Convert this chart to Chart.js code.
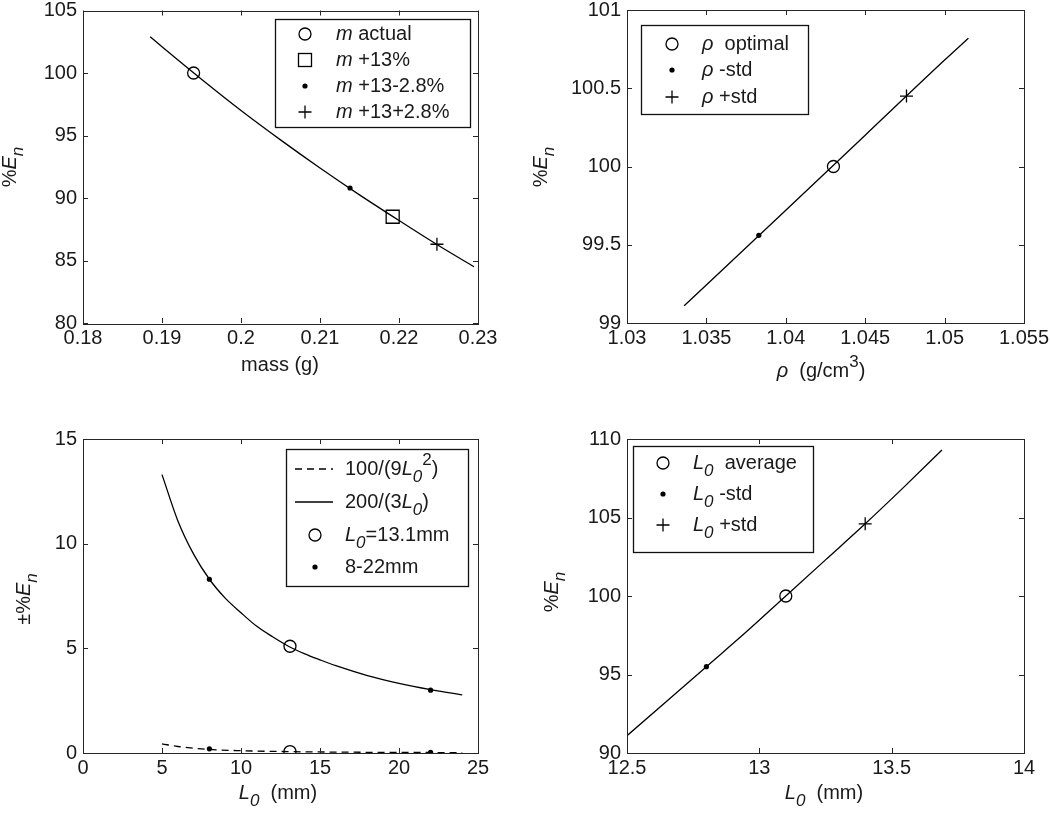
<!DOCTYPE html>
<html>
<head>
<meta charset="utf-8">
<script src="https://cdn.jsdelivr.net/npm/chart.js@4.4.1/dist/chart.umd.min.js"></script>
<style>
  html, body { margin: 0; padding: 0; background: #fff; }
  #fig { position: relative; width: 1050px; height: 814px; }
  #fig canvas { position: absolute; }
</style>
</head>
<body>
<div id="fig">
  <canvas id="cMass" width="525" height="407" style="left:0;top:0"></canvas>
  <canvas id="cRho" width="525" height="407" style="left:525px;top:0"></canvas>
  <canvas id="cErr" width="525" height="407" style="left:0;top:407px"></canvas>
  <canvas id="cLen" width="525" height="407" style="left:525px;top:407px"></canvas>
</div>
<script>
/////////////////////////// dades (llegides de la figura) ///////////////////////////
// panell 1 : %En en funcio de la massa
const massX = [0.1885, 0.19, 0.195, 0.2, 0.205, 0.21, 0.215, 0.22, 0.225, 0.2295];
const massEn = [102.9, 102.1, 99.5, 97.0, 94.65, 92.4, 90.25, 88.2, 86.2, 84.5];
const massActual = [{x: 0.194, y: 100}];
const massPlus13 = [{x: 0.2192, y: 88.5}];
const massLow = [{x: 0.2138, y: 90.8}];
const massHigh = [{x: 0.2248, y: 86.3}];
const massXTicks = [0.18, 0.19, 0.2, 0.21, 0.22, 0.23];
const massYTicks = [80, 85, 90, 95, 100, 105];

// panell 2 : %En en funcio de rho
const rhoX = [1.0336, 1.04, 1.045, 1.05, 1.0515];
const rhoEn = [99.11, 99.72, 100.2, 100.68, 100.82];
const rhoOptimal = [{x: 1.043, y: 100}];
const rhoLow = [{x: 1.0383, y: 99.56}];
const rhoHigh = [{x: 1.0476, y: 100.45}];
const rhoXTicks = [1.03, 1.035, 1.04, 1.045, 1.05, 1.055];
const rhoYTicks = [99, 99.5, 100, 100.5, 101];

// panell 3 : error en funcio de L0
const errSolidX = [5, 6, 7, 8, 9, 10, 11, 12, 13, 14, 15, 16, 18, 20, 22, 24];
const errSolidY = [13.3, 11.1, 9.5, 8.3, 7.4, 6.7, 6.05, 5.55, 5.1, 4.75, 4.45, 4.17, 3.7, 3.33, 3.03, 2.78];
const errDashX = [5, 6, 8, 10, 13, 16, 20, 24];
const errDashY = [0.44, 0.31, 0.17, 0.11, 0.066, 0.043, 0.028, 0.019];
const errL0 = [{x: 13.1, y: 5.1}, {x: 13.1, y: 0.07}];
const errRange = [{x: 8, y: 8.3}, {x: 22, y: 3.0}, {x: 8, y: 0.2}, {x: 22, y: 0.03}];
const errXTicks = [0, 5, 10, 15, 20, 25];
const errYTicks = [0, 5, 10, 15];

// panell 4 : %En en funcio de L0
const lenX = [12.5, 12.65, 12.8, 12.95, 13.1, 13.25, 13.4, 13.55, 13.69];
const lenEn = [91.1, 93.3, 95.5, 97.7, 100, 102.3, 104.6, 107.0, 109.3];
const lenAverage = [{x: 13.1, y: 100}];
const lenLow = [{x: 12.8, y: 95.5}];
const lenHigh = [{x: 13.4, y: 104.6}];
const lenXTicks = [12.5, 13, 13.5, 14];
const lenYTicks = [90, 95, 100, 105, 110];
/////////////////////////////////////////////////////////////////////////////////////

const FONT = '"Liberation Sans", Arial, sans-serif';
const TXT = '#1a1a1a';
const FS = 20;
Chart.defaults.font.family = FONT;
Chart.defaults.font.size = FS;
Chart.defaults.color = TXT;

// trossos de text (normal, cursiva, subindex, superindex)
const t = s => ({t: s});
const it = s => ({t: s, it: true});
const sub = s => ({t: s, it: true, sub: true});
const sup = s => ({t: s, sup: true});

function segFont(p, size) {
  const s = (p.sub || p.sup) ? size * 0.85 : size;
  return (p.it ? 'italic ' : '') + s + 'px ' + FONT;
}

function drawRich(ctx, parts, x, y, size, align) {
  ctx.save();
  ctx.fillStyle = TXT;
  ctx.textBaseline = 'middle';
  ctx.textAlign = 'left';
  let w = 0;
  parts.forEach(p => { ctx.font = segFont(p, size); w += ctx.measureText(p.t).width; });
  let cx = align === 'center' ? x - w / 2 : x;
  parts.forEach(p => {
    ctx.font = segFont(p, size);
    const dy = p.sub ? size * 0.42 : (p.sup ? -size * 0.42 : 0);
    ctx.fillText(p.t, cx, y + dy);
    cx += ctx.measureText(p.t).width;
  });
  ctx.restore();
}

function drawMarker(ctx, mk, x, y, o) {
  ctx.save();
  ctx.strokeStyle = '#000';
  ctx.fillStyle = '#000';
  ctx.lineWidth = 1.3;
  ctx.beginPath();
  if (mk === 'circle') {
    ctx.arc(x, y, 6, 0, Math.PI * 2);
    ctx.stroke();
  } else if (mk === 'square') {
    ctx.strokeRect(x - 6.5, y - 6.5, 13, 13);
  } else if (mk === 'dot') {
    ctx.arc(x, y, 2.6, 0, Math.PI * 2);
    ctx.fill();
  } else if (mk === 'plus') {
    ctx.moveTo(x - 6.5, y); ctx.lineTo(x + 6.5, y);
    ctx.moveTo(x, y - 6.5); ctx.lineTo(x, y + 6.5);
    ctx.stroke();
  } else if (mk === 'dash' || mk === 'line') {
    if (mk === 'dash') ctx.setLineDash([7, 5]);
    ctx.moveTo(o.lineX1, y); ctx.lineTo(o.lineX2, y);
    ctx.stroke();
  }
  ctx.restore();
}

///////////////////// plugin: caixa, ticks cap a dins, llegenda i titols /////////////////////
const TICK = 5;
const matlabBox = {
  id: 'matlabBox',
  afterDraw(chart, args, o) {
    const ctx = chart.ctx;
    const a = chart.chartArea;
    const sx = chart.scales.x, sy = chart.scales.y;
    ctx.save();
    ctx.strokeStyle = '#262626';
    ctx.lineWidth = 1;
    ctx.strokeRect(Math.round(a.left) + 0.5, Math.round(a.top) + 0.5,
      Math.round(a.right - a.left), Math.round(a.bottom - a.top));
    ctx.beginPath();
    sx.ticks.forEach(tk => {
      const px = Math.round(sx.getPixelForValue(tk.value)) + 0.5;
      ctx.moveTo(px, a.bottom); ctx.lineTo(px, a.bottom - TICK);
      ctx.moveTo(px, a.top); ctx.lineTo(px, a.top + TICK);
    });
    sy.ticks.forEach(tk => {
      const py = Math.round(sy.getPixelForValue(tk.value)) + 0.5;
      ctx.moveTo(a.left, py); ctx.lineTo(a.left + TICK, py);
      ctx.moveTo(a.right, py); ctx.lineTo(a.right - TICK, py);
    });
    ctx.stroke();

    // llegenda
    const lg = o.legend;
    ctx.fillStyle = '#fff';
    ctx.fillRect(lg.x1, lg.y1, lg.x2 - lg.x1, lg.y2 - lg.y1);
    ctx.strokeStyle = '#111';
    ctx.lineWidth = 1.3;
    ctx.strokeRect(lg.x1 + 0.5, lg.y1 + 0.5, lg.x2 - lg.x1, lg.y2 - lg.y1);
    lg.items.forEach((item, i) => {
      const ry = lg.rows[i];
      drawMarker(ctx, item.mk, lg.markerX, ry, lg);
      drawRich(ctx, item.parts, lg.textX, ry, FS, 'left');
    });

    // titols dels eixos
    drawRich(ctx, o.xTitle.parts, o.xTitle.x, o.xTitle.y, FS, 'center');
    ctx.save();
    ctx.translate(o.yTitle.x, o.yTitle.y);
    ctx.rotate(-Math.PI / 2);
    drawRich(ctx, o.yTitle.parts, 0, 0, FS, 'center');
    ctx.restore();
    ctx.restore();
  }
};
////////////////////////////////////////////////////////////////////////////////

const fmt = v => String(+Number(v).toFixed(4));

function axes(xTicks, yTicks, g) {
  return {
    x: {
      type: 'linear', position: 'bottom',
      min: xTicks[0], max: xTicks[xTicks.length - 1],
      afterBuildTicks: s => { s.ticks = xTicks.map(v => ({value: v})); },
      afterFit: s => { s.height = g.xH; s.paddingLeft = 0; s.paddingRight = 0; },
      ticks: {autoSkip: false, maxRotation: 0, minRotation: 0, padding: 3, color: TXT, callback: fmt},
      grid: {display: false, drawTicks: false},
      border: {display: false}
    },
    y: {
      type: 'linear', position: 'left',
      min: yTicks[0], max: yTicks[yTicks.length - 1],
      afterBuildTicks: s => { s.ticks = yTicks.map(v => ({value: v})); },
      afterFit: s => { s.width = g.yW; s.paddingTop = 0; s.paddingBottom = 0; },
      ticks: {autoSkip: false, padding: 6, color: TXT, callback: fmt},
      grid: {display: false, drawTicks: false},
      border: {display: false}
    }
  };
}

function curve(data, dash) {
  return {
    data: data, showLine: true, pointRadius: 0, borderColor: '#000', backgroundColor: '#000',
    borderWidth: 1.3, borderDash: dash || [], cubicInterpolationMode: 'monotone'
  };
}

function marks(data, mk) {
  const d = {data: data, showLine: false, borderColor: '#000', pointBorderColor: '#000', pointBorderWidth: 1.3};
  if (mk === 'circle') Object.assign(d, {pointStyle: 'circle', pointRadius: 6, pointBackgroundColor: 'rgba(0,0,0,0)'});
  if (mk === 'square') Object.assign(d, {pointStyle: 'rect', pointRadius: 9.2, pointBackgroundColor: 'rgba(0,0,0,0)'});
  if (mk === 'dot') Object.assign(d, {pointStyle: 'circle', pointRadius: 2.6, pointBackgroundColor: '#000', pointBorderWidth: 0});
  if (mk === 'plus') Object.assign(d, {pointStyle: 'cross', pointRadius: 6.5});
  return d;
}

const xy = (xs, ys) => xs.map((x, i) => ({x: x, y: ys[i]}));

function makeChart(id, datasets, xTicks, yTicks, g, boxOpts) {
  return new Chart(document.getElementById(id), {
    type: 'scatter',
    data: {datasets: datasets},
    options: {
      responsive: false, animation: false, events: [],
      layout: {padding: g.pad},
      scales: axes(xTicks, yTicks, g),
      plugins: {legend: {display: false}, tooltip: {enabled: false}, matlabBox: boxOpts}
    },
    plugins: [matlabBox]
  });
}

// geometria comuna: columna esquerra / dreta, fila superior / inferior
const gTL = {yW: 83, xH: 84, pad: {left: 0, top: 10, right: 47, bottom: 0}};
const gTR = {yW: 102, xH: 84, pad: {left: 0, top: 10, right: 26, bottom: 0}};
const gBL = {yW: 83, xH: 61, pad: {left: 0, top: 32, right: 47, bottom: 0}};
const gBR = {yW: 102, xH: 61, pad: {left: 0, top: 32, right: 26, bottom: 0}};

/////////////////////////////// panell 1 ///////////////////////////////
makeChart('cMass', [
  marks(massActual, 'circle'),
  marks(massPlus13, 'square'),
  marks(massLow, 'dot'),
  marks(massHigh, 'plus'),
  curve(xy(massX, massEn))
], massXTicks, massYTicks, gTL, {
  legend: {
    x1: 275, y1: 19, x2: 470, y2: 127, markerX: 305, textX: 336, rows: [34, 60, 86, 112],
    items: [
      {mk: 'circle', parts: [it('m'), t(' actual')]},
      {mk: 'square', parts: [it('m'), t(' +13%')]},
      {mk: 'dot', parts: [it('m'), t(' +13-2.8%')]},
      {mk: 'plus', parts: [it('m'), t(' +13+2.8%')]}
    ]
  },
  xTitle: {x: 280, y: 365, parts: [t('mass (g)')]},
  yTitle: {x: 10, y: 167, parts: [t('%'), it('E'), sub('n')]}
});

/////////////////////////////// panell 2 ///////////////////////////////
makeChart('cRho', [
  marks(rhoOptimal, 'circle'),
  marks(rhoLow, 'dot'),
  marks(rhoHigh, 'plus'),
  curve(xy(rhoX, rhoEn))
], rhoXTicks, rhoYTicks, gTR, {
  legend: {
    x1: 116, y1: 25, x2: 283, y2: 114, markerX: 147, textX: 177, rows: [44, 70, 97],
    items: [
      {mk: 'circle', parts: [it('ρ'), t('  optimal')]},
      {mk: 'dot', parts: [it('ρ'), t(' -std')]},
      {mk: 'plus', parts: [it('ρ'), t(' +std')]}
    ]
  },
  xTitle: {x: 296, y: 371, parts: [it('ρ'), t('  (g/cm'), sup('3'), t(')')]},
  yTitle: {x: 16, y: 167, parts: [t('%'), it('E'), sub('n')]}
});

/////////////////////////////// panell 3 ///////////////////////////////
makeChart('cErr', [
  marks(errL0, 'circle'),
  marks(errRange, 'dot'),
  curve(xy(errSolidX, errSolidY)),
  curve(xy(errDashX, errDashY), [7, 5])
], errXTicks, errYTicks, gBL, {
  legend: {
    x1: 286, y1: 42, x2: 468, y2: 179, markerX: 315, textX: 345, lineX1: 295, lineX2: 333,
    rows: [62, 95, 128, 160],
    items: [
      {mk: 'dash', parts: [t('100/(9'), it('L'), sub('0'), sup('2'), t(')')]},
      {mk: 'line', parts: [t('200/(3'), it('L'), sub('0'), t(')')]},
      {mk: 'circle', parts: [it('L'), sub('0'), t('=13.1mm')]},
      {mk: 'dot', parts: [t('8-22mm')]}
    ]
  },
  xTitle: {x: 278, y: 386, parts: [it('L'), sub('0'), t('  (mm)')]},
  yTitle: {x: 24, y: 192, parts: [t('±%'), it('E'), sub('n')]}
});

/////////////////////////////// panell 4 ///////////////////////////////
makeChart('cLen', [
  marks(lenAverage, 'circle'),
  marks(lenLow, 'dot'),
  marks(lenHigh, 'plus'),
  curve(xy(lenX, lenEn))
], lenXTicks, lenYTicks, gBR, {
  legend: {
    x1: 108, y1: 39, x2: 288, y2: 145, markerX: 138, textX: 168, rows: [56, 87, 118],
    items: [
      {mk: 'circle', parts: [it('L'), sub('0'), t('  average')]},
      {mk: 'dot', parts: [it('L'), sub('0'), t(' -std')]},
      {mk: 'plus', parts: [it('L'), sub('0'), t(' +std')]}
    ]
  },
  xTitle: {x: 299, y: 386, parts: [it('L'), sub('0'), t('  (mm)')]},
  yTitle: {x: 27, y: 185, parts: [t('%'), it('E'), sub('n')]}
});
</script>
</body>
</html>
